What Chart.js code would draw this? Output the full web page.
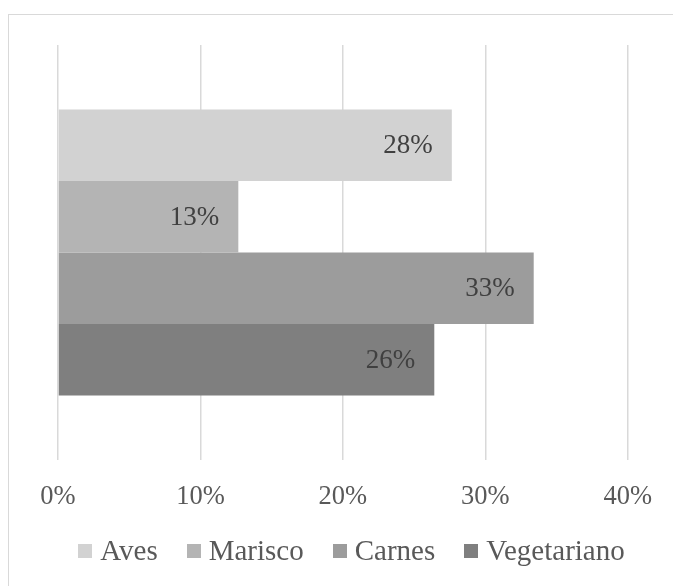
<!DOCTYPE html>
<html>
<head>
<meta charset="utf-8">
<script src="https://cdn.jsdelivr.net/npm/chart.js@4.4.1/dist/chart.umd.min.js"></script>
<style>
  html, body { margin: 0; padding: 0; background: #fff; overflow: hidden; }
  #wrap { position: relative; width: 673px; height: 586px; }
  #frame { position: absolute; left: 8px; top: 14px; width: 700px; height: 620px; border: 1.5px solid #d9d9d9; box-sizing: border-box; }
  canvas { position: absolute; left: 0; top: 0; }
</style>
</head>
<body>
<div id="wrap">
  <div id="frame"></div>
  <canvas id="c" width="673" height="586"></canvas>
</div>
<script>
const categories = [""];
const seriesNames = ["Aves", "Marisco", "Carnes", "Vegetariano"];
const seriesValues = [27.65, 12.66, 33.4, 26.42];
const seriesLabels = ["28%", "13%", "33%", "26%"];
const seriesColors = ["#d2d2d2", "#b4b4b4", "#9c9c9c", "#7f7f7f"];
const xTicks = [0, 10, 20, 30, 40];

const FONT = "'Liberation Serif', 'Times New Roman', serif";

const barLabels = {
  id: 'barLabels',
  afterDatasetsDraw(chart) {
    const ctx = chart.ctx;
    ctx.save();
    ctx.font = "27px " + FONT;
    ctx.fillStyle = "#404040";
    ctx.textAlign = "right";
    ctx.textBaseline = "middle";
    chart.data.datasets.forEach((ds, i) => {
      const meta = chart.getDatasetMeta(i);
      meta.data.forEach((el, j) => {
        ctx.fillText(ds.valueLabels[j], el.x - 19, el.y + 1);
      });
    });
    ctx.restore();
  }
};

// legend drawn from the chart's own datasets, centred like the reference
const customLegend = {
  id: 'customLegend',
  afterDraw(chart) {
    const ctx = chart.ctx;
    const fontSize = 29, box = 14, gapBoxText = 8, gapItems = 29;
    const centerX = 351.5, centerY = 551;
    ctx.save();
    ctx.font = fontSize + "px " + FONT;
    const items = chart.data.datasets.map(ds => ({ text: ds.label, color: ds.backgroundColor, w: ctx.measureText(ds.label).width }));
    let total = 0;
    items.forEach((it, i) => { total += box + gapBoxText + it.w + (i < items.length - 1 ? gapItems : 0); });
    let x = centerX - total / 2;
    ctx.textBaseline = "middle";
    ctx.textAlign = "left";
    items.forEach(it => {
      ctx.fillStyle = it.color;
      ctx.fillRect(Math.round(x), Math.round(centerY - box / 2), box, box);
      x += box + gapBoxText;
      ctx.fillStyle = "#595959";
      ctx.fillText(it.text, x, centerY + 1);
      x += it.w + gapItems;
    });
    ctx.restore();
  }
};

new Chart(document.getElementById('c'), {
  type: 'bar',
  data: {
    labels: categories,
    datasets: seriesNames.map((n, i) => ({
      label: n,
      data: [seriesValues[i]],
      valueLabels: [seriesLabels[i]],
      backgroundColor: seriesColors[i],
      borderWidth: 0,
      categoryPercentage: 0.689,
      barPercentage: 1.0
    }))
  },
  options: {
    indexAxis: 'y',
    responsive: false,
    animation: false,
    devicePixelRatio: 1,
    layout: { padding: { left: 58, right: 40.7, top: 45, bottom: 66 } },
    scales: {
      y: { display: false },
      x: {
        min: 0, max: 40,
        afterBuildTicks(axis) { axis.ticks = xTicks.map(v => ({ value: v })); },
        border: { display: false },
        grid: { color: "#d9d9d9", lineWidth: 1.5, drawTicks: false },
        ticks: {
          padding: 21,
          color: "#595959",
          font: { family: FONT, size: 26.5 },
          callback: v => v + "%"
        },
        afterFit(axis) { axis.height = 60; }
      }
    },
    plugins: {
      legend: { display: false },
      tooltip: { enabled: false }
    }
  },
  plugins: [barLabels, customLegend]
});
</script>
</body>
</html>
